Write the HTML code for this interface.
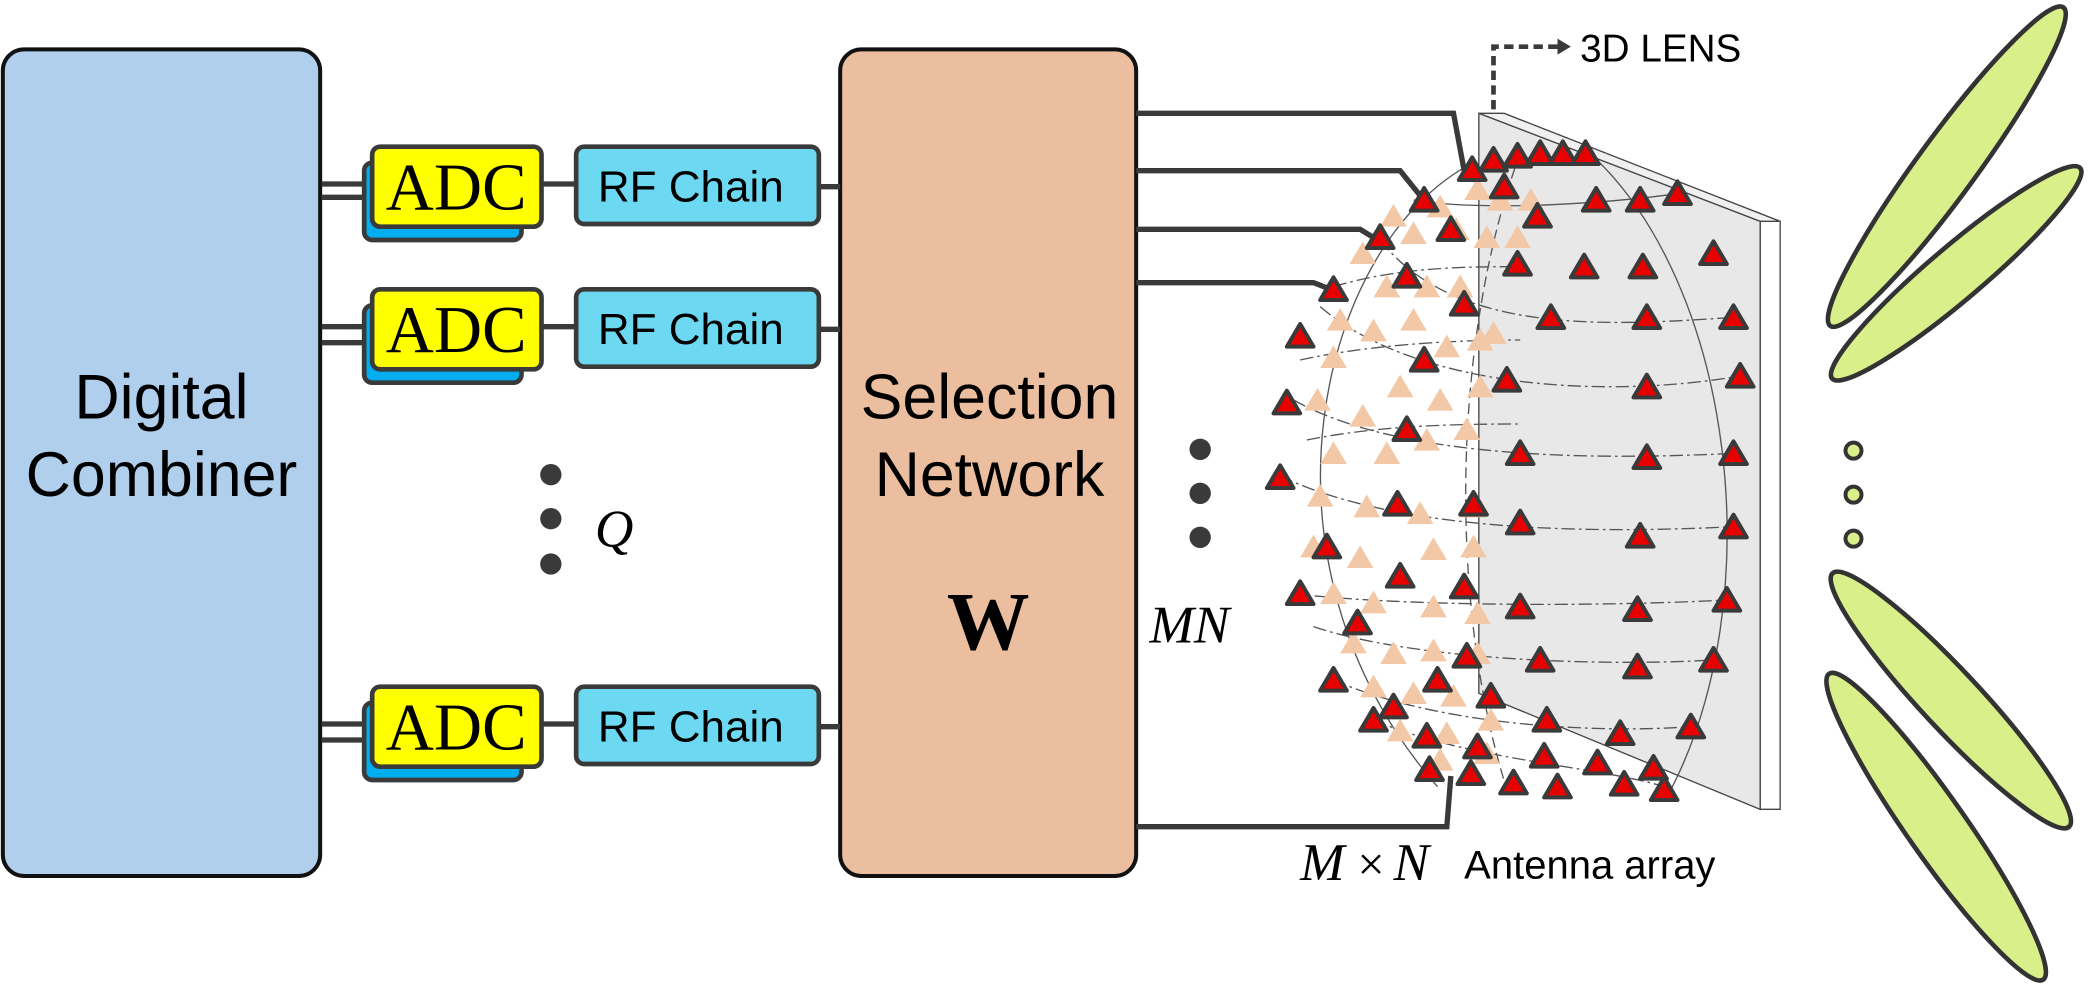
<!DOCTYPE html>
<html><head><meta charset="utf-8"><style>
html,body{margin:0;padding:0;background:#fff;}
svg{display:block;}
</style></head><body>
<svg width="2091" height="1004" viewBox="0 0 1568 753" xmlns="http://www.w3.org/2000/svg">
<defs>
<polygon id="rt" points="0,-9 10,8 -10,8" fill="#e80000" stroke="#3a3a3a" stroke-width="3" stroke-linejoin="round"/>
<polygon id="pt" points="0,-9 10,8 -10,8" fill="#f2c8a6"/>
</defs>
<rect width="1568" height="753" fill="#fff"/>

<rect x="2" y="37" width="238" height="620" rx="16" fill="#b0cfec" stroke="#111" stroke-width="3"/>
<text x="121" y="314" font-family="Liberation Sans, sans-serif" font-size="47" text-anchor="middle">Digital</text>
<text x="121" y="372" font-family="Liberation Sans, sans-serif" font-size="47" text-anchor="middle">Combiner</text>

<rect x="630" y="37" width="222" height="620" rx="16" fill="#ebbe9f" stroke="#111" stroke-width="3"/>
<text x="742" y="314" font-family="Liberation Sans, sans-serif" font-size="47" text-anchor="middle">Selection</text>
<text x="742" y="372" font-family="Liberation Sans, sans-serif" font-size="47" text-anchor="middle">Network</text>
<text x="741" y="487" font-family="Liberation Serif, serif" font-size="62" font-weight="bold" text-anchor="middle">W</text>

<g stroke="#3a3a3a" stroke-width="4" fill="none">
<path d="M241,138H278M241,148H272M406,138H432M614,140H630"/>
<path d="M241,245H278M241,257H272M406,245H432M614,247H630"/>
<path d="M241,543H278M241,555H272M406,543H432M614,545H630"/>
</g>
<g stroke="#3a3a3a" stroke-width="3.5">
<rect x="273" y="122" width="118" height="58" rx="6" fill="#00aeef"/>
<rect x="279" y="110" width="127" height="60" rx="6" fill="#ffff00"/>
<rect x="432" y="110" width="182" height="58" rx="6" fill="#6dd8f2"/>
<rect x="273" y="229" width="118" height="58" rx="6" fill="#00aeef"/>
<rect x="279" y="217" width="127" height="60" rx="6" fill="#ffff00"/>
<rect x="432" y="217" width="182" height="58" rx="6" fill="#6dd8f2"/>
<rect x="273" y="527" width="118" height="58" rx="6" fill="#00aeef"/>
<rect x="279" y="515" width="127" height="60" rx="6" fill="#ffff00"/>
<rect x="432" y="515" width="182" height="58" rx="6" fill="#6dd8f2"/>
</g>
<g font-family="Liberation Serif, serif" font-size="50" text-anchor="middle">
<text x="342" y="157">ADC</text><text x="342" y="264">ADC</text><text x="342" y="562">ADC</text>
</g>
<g font-family="Liberation Sans, sans-serif" font-size="33" text-anchor="middle">
<text x="518" y="151">RF Chain</text><text x="518" y="258">RF Chain</text><text x="518" y="556">RF Chain</text>
</g>

<g fill="#3a3a3a"><circle cx="413" cy="356" r="8"/><circle cx="413" cy="389" r="8"/><circle cx="413" cy="423" r="8"/>
<circle cx="900" cy="337" r="8"/><circle cx="900" cy="370" r="8"/><circle cx="900" cy="403" r="8"/></g>
<text x="446" y="410" font-family="Liberation Serif, serif" font-size="40" font-style="italic">Q</text>
<text x="862" y="482" font-family="Liberation Serif, serif" font-size="40" font-style="italic">MN</text>

<polygon points="1109,85 1335,166 1335,607 1320,607 1320,160" fill="#fff" stroke="#444" stroke-width="1"/>
<polygon points="1109,85 1128,85 1335,166 1320,166" fill="#f0f0f0" stroke="#444" stroke-width="1"/>
<polygon points="1109,85 1320,166 1320,607 1109,520" fill="#e8e8e8" stroke="#444" stroke-width="1"/>
<path d="M1120,82V35H1170" stroke="#3a3a3a" stroke-width="3.5" stroke-dasharray="7,4" fill="none"/>
<polygon points="1168,29 1178,35 1168,41" fill="#3a3a3a"/>
<text x="1185" y="46" font-family="Liberation Sans, sans-serif" font-size="29">3D LENS</text>

<g fill="none" stroke="#555" stroke-width="1">
<path d="M1105,122 C990,180 930,420 1078,590"/>
<path d="M1190,113 C1300,210 1330,450 1250,598"/>
<path d="M1140,115 C1090,250 1085,450 1130,592" stroke-dasharray="8,4"/>
<path d="M1060,150 C1120,160 1230,150 1258,145"/>
<g stroke-dasharray="10,3,2,3">
<path d="M1035,180 C1090,250 1200,245 1300,238"/>
<path d="M990,230 C1060,290 1200,300 1305,282"/>
<path d="M970,300 C1050,345 1200,345 1300,340"/>
<path d="M960,357 C1050,400 1200,400 1300,395"/>
<path d="M968,445 C1050,455 1200,455 1295,450"/>
<path d="M985,470 C1060,495 1200,500 1285,495"/>
<path d="M1000,510 C1080,545 1200,550 1268,545"/>
<path d="M1030,540 C1100,570 1200,575 1248,590"/>
<path d="M1000,215 C1050,200 1100,200 1140,200"/>
<path d="M975,270 C1020,260 1080,255 1140,255"/>
<path d="M980,330 C1030,320 1080,318 1140,318"/>
</g></g>

<g stroke="#3a3a3a" stroke-width="4" fill="none">
<path d="M852,85H1090L1098,128"/>
<path d="M852,128H1050L1066,148"/>
<path d="M852,172H1020L1033,180"/>
<path d="M852,212H985L998,217"/>
<path d="M852,620H1085L1088,582"/>
</g>

<g>
<use href="#pt" x="1108" y="142"/><use href="#pt" x="1125" y="150"/><use href="#pt" x="1148" y="150"/><use href="#pt" x="1080" y="155"/><use href="#pt" x="1045" y="162"/>
<use href="#pt" x="1060" y="175"/><use href="#pt" x="1092" y="172"/><use href="#pt" x="1115" y="178"/><use href="#pt" x="1138" y="178"/><use href="#pt" x="1022" y="190"/>
<use href="#pt" x="1040" y="215"/><use href="#pt" x="1070" y="215"/><use href="#pt" x="1095" y="215"/><use href="#pt" x="1005" y="240"/><use href="#pt" x="1030" y="248"/>
<use href="#pt" x="1060" y="240"/><use href="#pt" x="1120" y="250"/><use href="#pt" x="1000" y="268"/><use href="#pt" x="1050" y="290"/><use href="#pt" x="1085" y="260"/><use href="#pt" x="1110" y="255"/>
<use href="#pt" x="988" y="300"/><use href="#pt" x="1022" y="312"/><use href="#pt" x="1080" y="300"/><use href="#pt" x="1110" y="290"/><use href="#pt" x="1000" y="340"/><use href="#pt" x="1040" y="340"/>
<use href="#pt" x="1070" y="330"/><use href="#pt" x="1100" y="322"/><use href="#pt" x="990" y="372"/><use href="#pt" x="1025" y="380"/><use href="#pt" x="1065" y="385"/><use href="#pt" x="1105" y="380"/>
<use href="#pt" x="985" y="410"/><use href="#pt" x="1020" y="418"/><use href="#pt" x="1075" y="412"/><use href="#pt" x="1105" y="410"/><use href="#pt" x="1000" y="445"/><use href="#pt" x="1030" y="452"/>
<use href="#pt" x="1075" y="455"/><use href="#pt" x="1108" y="460"/><use href="#pt" x="1015" y="482"/><use href="#pt" x="1045" y="490"/><use href="#pt" x="1075" y="488"/><use href="#pt" x="1108" y="490"/>
<use href="#pt" x="1030" y="515"/><use href="#pt" x="1060" y="520"/><use href="#pt" x="1090" y="522"/><use href="#pt" x="1050" y="548"/><use href="#pt" x="1085" y="550"/><use href="#pt" x="1118" y="540"/>
<use href="#pt" x="1080" y="570"/><use href="#pt" x="1115" y="565"/>
</g>
<g>
<use href="#rt" x="1104" y="127"/><use href="#rt" x="1120" y="120"/><use href="#rt" x="1138" y="117"/><use href="#rt" x="1155" y="115"/><use href="#rt" x="1172" y="115"/><use href="#rt" x="1189" y="115"/>
<use href="#rt" x="1068" y="150"/><use href="#rt" x="1128" y="140"/><use href="#rt" x="1153" y="162"/><use href="#rt" x="1197" y="150"/><use href="#rt" x="1230" y="150"/><use href="#rt" x="1258" y="145"/>
<use href="#rt" x="1035" y="178"/><use href="#rt" x="1088" y="172"/><use href="#rt" x="1138" y="198"/><use href="#rt" x="1188" y="200"/><use href="#rt" x="1232" y="200"/><use href="#rt" x="1285" y="190"/>
<use href="#rt" x="1000" y="217"/><use href="#rt" x="1055" y="207"/><use href="#rt" x="1098" y="228"/><use href="#rt" x="1163" y="238"/><use href="#rt" x="1235" y="238"/><use href="#rt" x="1300" y="238"/>
<use href="#rt" x="975" y="252"/><use href="#rt" x="1068" y="270"/><use href="#rt" x="1130" y="285"/><use href="#rt" x="1235" y="290"/><use href="#rt" x="1305" y="282"/>
<use href="#rt" x="965" y="302"/><use href="#rt" x="1055" y="322"/><use href="#rt" x="1140" y="340"/><use href="#rt" x="1235" y="343"/><use href="#rt" x="1300" y="340"/>
<use href="#rt" x="960" y="358"/><use href="#rt" x="1048" y="378"/><use href="#rt" x="1105" y="378"/><use href="#rt" x="1140" y="392"/><use href="#rt" x="1230" y="402"/><use href="#rt" x="1300" y="395"/>
<use href="#rt" x="995" y="410"/><use href="#rt" x="1050" y="432"/><use href="#rt" x="1098" y="440"/><use href="#rt" x="1140" y="455"/><use href="#rt" x="1228" y="457"/><use href="#rt" x="1295" y="450"/>
<use href="#rt" x="975" y="445"/><use href="#rt" x="1018" y="467"/><use href="#rt" x="1100" y="492"/><use href="#rt" x="1155" y="495"/><use href="#rt" x="1228" y="500"/><use href="#rt" x="1285" y="495"/>
<use href="#rt" x="1000" y="510"/><use href="#rt" x="1045" y="530"/><use href="#rt" x="1078" y="510"/><use href="#rt" x="1118" y="522"/><use href="#rt" x="1160" y="540"/><use href="#rt" x="1215" y="550"/><use href="#rt" x="1268" y="545"/>
<use href="#rt" x="1030" y="540"/><use href="#rt" x="1070" y="552"/><use href="#rt" x="1108" y="560"/><use href="#rt" x="1158" y="567"/><use href="#rt" x="1198" y="572"/><use href="#rt" x="1240" y="576"/>
<use href="#rt" x="1072" y="577"/><use href="#rt" x="1103" y="580"/><use href="#rt" x="1135" y="587"/><use href="#rt" x="1168" y="590"/><use href="#rt" x="1218" y="588"/><use href="#rt" x="1248" y="592"/>
</g>

<text x="975" y="660" font-family="Liberation Serif, serif" font-size="40" font-style="italic">M</text>
<text x="1018" y="660" font-family="Liberation Serif, serif" font-size="36">×</text>
<text x="1045" y="660" font-family="Liberation Serif, serif" font-size="40" font-style="italic">N</text>
<text x="1098" y="659" font-family="Liberation Sans, sans-serif" font-size="30">Antenna array</text>

<g fill="#d8ef8a" stroke="#333" stroke-width="3.5">
<ellipse cx="0" cy="0" rx="148" ry="22" transform="translate(1460,125) rotate(-53.8)"/>
<ellipse cx="0" cy="0" rx="122" ry="20" transform="translate(1467,205) rotate(-40.3)"/>
<ellipse cx="0" cy="0" rx="130" ry="22" transform="translate(1463,525) rotate(47)"/>
<ellipse cx="0" cy="0" rx="140" ry="22" transform="translate(1452,620) rotate(55)"/>
</g>
<g fill="#d8ef8a" stroke="#333" stroke-width="3"><circle cx="1390" cy="338" r="6"/><circle cx="1390" cy="371" r="6"/><circle cx="1390" cy="404" r="6"/></g>
</svg>
</body></html>
